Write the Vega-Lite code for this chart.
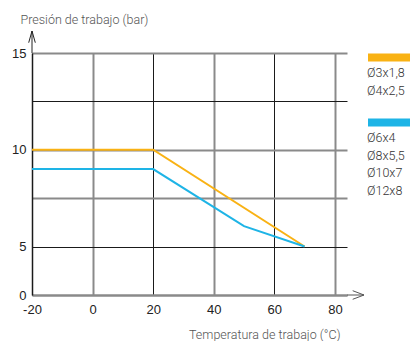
{
  "$schema": "https://vega.github.io/schema/vega-lite/v6.json",
  "width": 315,
  "height": 242,
  "autosize": "none",
  "padding": {"left": 32, "top": 53, "right": 69, "bottom": 46},
  "background": "white",
  "config": {"view": {"stroke": null}},
  "encoding": {
    "x": {
      "field": "x",
      "type": "quantitative",
      "scale": {"domain": [-20, 84], "nice": false, "zero": false},
      "axis": {
        "values": [-20, 0, 20, 40, 60, 80],
        "labelExpr": "replace(datum.label, '−', '-')",
        "title": "Temperatura de trabajo (°C)",
        "grid": true,
        "gridColor": {"condition": {"test": "datum.value % 40 == 0", "value": "#8a8a8a"}, "value": "#1a1a1a"},
        "gridWidth": {"condition": {"test": "datum.value % 40 == 0", "value": 2}, "value": 1},
        "gridOpacity": 1,
        "ticks": false,
        "tickSize": 0,
        "domain": true,
        "domainColor": "#8a8a8a",
        "domainWidth": 2,
        "labelFont": "Liberation Sans",
        "labelFontSize": 13,
        "labelColor": "#222",
        "labelPadding": 8,
        "labelFlush": false,
        "titleFont": "Roboto",
        "titleFontSize": 12.5,
        "titleFontWeight": 300,
        "titleColor": "#555",
        "titleAlign": "right",
        "titleBaseline": "alphabetic",
        "titleX": 308,
        "titleY": 43
      }
    },
    "y": {
      "field": "y",
      "type": "quantitative",
      "scale": {"domain": [0, 5, 15], "range": [242, 193.5, 0], "nice": false, "zero": false},
      "axis": {
        "values": [0, 5, 7.5, 10, 12.5, 15],
        "labelExpr": "datum.value % 5 == 0 ? datum.label : ''",
        "title": "Presión de trabajo (bar)",
        "grid": true,
        "gridColor": {"condition": {"test": "datum.value == 5 || datum.value == 12.5", "value": "#1a1a1a"}, "value": "#8a8a8a"},
        "gridWidth": {"condition": {"test": "datum.value == 5 || datum.value == 12.5", "value": 1}, "value": 2},
        "gridOpacity": 1,
        "ticks": false,
        "tickSize": 0,
        "domain": true,
        "domainColor": "#1a1a1a",
        "domainWidth": 1.5,
        "labelFont": "Liberation Sans",
        "labelFontSize": 13,
        "labelColor": "#222",
        "labelPadding": 6,
        "labelFlush": false,
        "titleFont": "Roboto",
        "titleFontSize": 12.5,
        "titleFontWeight": 300,
        "titleColor": "#555",
        "titleAngle": 0,
        "titleAlign": "left",
        "titleBaseline": "alphabetic",
        "titleX": -12,
        "titleY": -30
      }
    }
  },
  "layer": [
    {
      "data": {
        "values": [
          {"series": "Ø3x1,8 Ø4x2,5", "x": -20, "y": 10},
          {"series": "Ø3x1,8 Ø4x2,5", "x": 20, "y": 10},
          {"series": "Ø3x1,8 Ø4x2,5", "x": 70, "y": 5},
          {"series": "Ø6x4 Ø8x5,5 Ø10x7 Ø12x8", "x": -20, "y": 9},
          {"series": "Ø6x4 Ø8x5,5 Ø10x7 Ø12x8", "x": 20, "y": 9},
          {"series": "Ø6x4 Ø8x5,5 Ø10x7 Ø12x8", "x": 50, "y": 6.05},
          {"series": "Ø6x4 Ø8x5,5 Ø10x7 Ø12x8", "x": 70, "y": 5}
        ]
      },
      "mark": {"type": "line", "strokeWidth": 2},
      "encoding": {
        "color": {
          "field": "series",
          "type": "nominal",
          "scale": {"domain": ["Ø3x1,8 Ø4x2,5", "Ø6x4 Ø8x5,5 Ø10x7 Ø12x8"], "range": ["#F9B214", "#1EB4E6"]},
          "legend": {
            "orient": "none",
            "legendX": 333,
            "legendY": 0,
            "title": null,
            "padding": 0,
            "symbolType": "M-1.1,-0.94 H3.1",
            "symbolSize": 400,
            "symbolStrokeWidth": 8,
            "labelOffset": -26,
            "labelBaseline": "top",
            "labelFont": "Roboto",
            "labelFontSize": 12.5,
            "labelFontWeight": 300,
            "labelColor": "#333",
            "labelLimit": 0,
            "rowPadding": 8,
            "labelExpr": "split(datum.label, ' ')",
            "encode": {"labels": {"update": {"lineHeight": {"value": 17.6}}}}
          }
        }
      }
    },
    {
      "data": {"values": [{"x": -20, "y": 15}]},
      "mark": {"type": "point", "shape": "M0,0 L0,-22 M-3.3,-10.3 L0,-22 L3.3,-10.3", "size": 4, "filled": false, "stroke": "#222", "strokeWidth": 1, "opacity": 1}
    },
    {
      "data": {"values": [{"x": 84, "y": 0}]},
      "mark": {"type": "point", "shape": "M0,0 L17,0 M5.7,-4.3 L17,0 L5.7,4.3", "size": 4, "filled": false, "stroke": "#555", "strokeWidth": 1, "opacity": 1}
    }
  ]
}
